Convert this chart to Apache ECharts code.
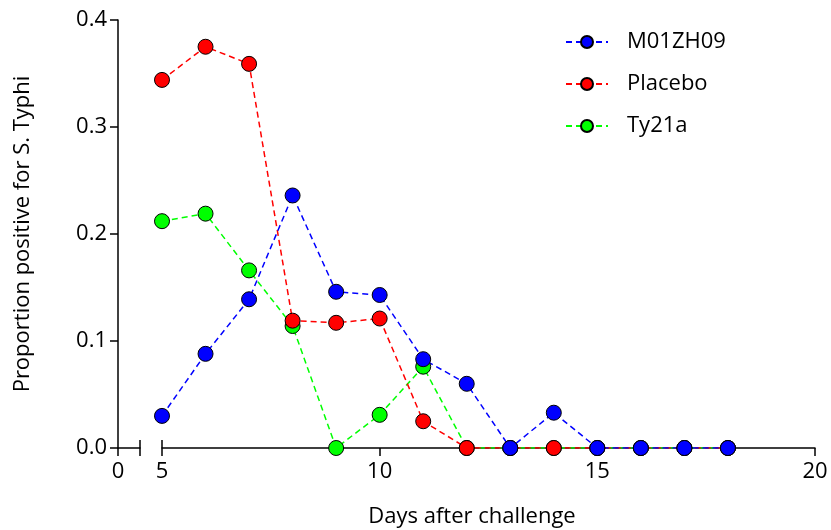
<!DOCTYPE html>
<html>
<head>
<meta charset="utf-8">
<script src="https://cdn.jsdelivr.net/npm/echarts@6/dist/echarts.min.js"></script>
<style>html,body{margin:0;padding:0;background:#fff}#c{width:831px;height:530px}</style>
</head>
<body>
<div id="c"></div>
<script>
const days = [5, 6, 7, 8, 9, 10, 11, 12, 13, 14, 15, 16, 17, 18];
const seriesNames = ['M01ZH09', 'Placebo', 'Ty21a'];
const m01zh09 = [0.030, 0.088, 0.139, 0.236, 0.146, 0.143, 0.083, 0.060, 0.000, 0.033, 0.000, 0.000, 0.000, 0.000];
const placebo = [0.344, 0.375, 0.359, 0.119, 0.117, 0.121, 0.025, 0.000, 0.000, 0.000, 0.000, 0.000, 0.000, 0.000];
const ty21a   = [0.212, 0.219, 0.166, 0.114, 0.000, 0.031, 0.076, 0.000, 0.000, 0.000, 0.000, 0.000, 0.000, 0.000];
const xTicks = [0, 5, 10, 15, 20];
const yTicks = [0, 0.1, 0.2, 0.3, 0.4];
const xTitle = 'Days after challenge';
const yTitle = 'Proportion positive for S. Typhi';

const FONT = 'Open Sans';
const colors = {M01ZH09: '#0000ff', Placebo: '#ff0000', Ty21a: '#00ff00'};
const values = {M01ZH09: m01zh09, Placebo: placebo, Ty21a: ty21a};

function mkSeries(name) {
  return {
    name: name, type: 'line', xAxisIndex: 0, yAxisIndex: 0,
    data: days.map((d, i) => [d, values[name][i]]),
    symbol: 'circle', symbolSize: 15,
    itemStyle: {color: colors[name], borderColor: '#000', borderWidth: 1},
    lineStyle: {color: colors[name], width: 1.5, type: [6, 4]},
    emphasis: {disabled: true}, animation: false
  };
}

const axisLineStyle = {color: '#000', width: 1.5};
const chart = echarts.init(document.getElementById('c'), null, {renderer: 'canvas'});
chart.setOption({
  animation: false,
  textStyle: {fontFamily: FONT},
  title: {
    text: xTitle, left: 467, top: 501, textAlign: 'center',
    textStyle: {fontFamily: FONT, fontSize: 22, fontWeight: 'normal', color: '#000'}
  },
  legend: {
    data: seriesNames, orient: 'vertical', left: 560, top: 26,
    itemWidth: 42, itemHeight: 15, itemGap: 20,
    textStyle: {fontFamily: FONT, fontSize: 22, color: '#000', padding: [0, 0, 0, 14]}
  },
  grid: [
    {left: 162, right: 16, top: 20, bottom: 82, containLabel: false},
    {left: 118, width: 22, top: 20, bottom: 82, containLabel: false}
  ],
  xAxis: [
    {gridIndex: 0, type: 'value', min: 5, max: 20, interval: 5,
     axisLine: {lineStyle: axisLineStyle}, splitLine: {show: false},
     axisTick: {length: 8, lineStyle: axisLineStyle},
     axisLabel: {fontFamily: FONT, fontSize: 22, color: '#000', margin: 13,
                 customValues: xTicks.filter(v => v >= 5)}},
    {gridIndex: 0, type: 'value', min: 5, max: 20, interval: 5, position: 'bottom',
     axisLine: {show: false}, splitLine: {show: false},
     axisTick: {show: true, inside: true, length: 8, lineStyle: axisLineStyle, customValues: [5]},
     axisLabel: {show: false}},
    {gridIndex: 1, type: 'value', min: 0, max: 1, interval: 1,
     axisLine: {lineStyle: axisLineStyle}, splitLine: {show: false},
     axisTick: {length: 8, lineStyle: axisLineStyle},
     axisLabel: {fontFamily: FONT, fontSize: 22, color: '#000', margin: 13,
                 customValues: [0], formatter: v => String(xTicks[0])}},
    {gridIndex: 1, type: 'value', min: 0, max: 1, interval: 1, position: 'bottom',
     axisLine: {show: false}, splitLine: {show: false},
     axisTick: {show: true, inside: true, length: 8, lineStyle: axisLineStyle, customValues: [1]},
     axisLabel: {show: false}}
  ],
  yAxis: [
    {gridIndex: 0, type: 'value', min: 0, max: 0.4, interval: 0.1, show: false},
    {gridIndex: 1, type: 'value', min: 0, max: 0.4, interval: 0.1,
     axisLine: {show: true, lineStyle: axisLineStyle}, splitLine: {show: false},
     axisTick: {show: true, length: 8, lineStyle: axisLineStyle},
     axisLabel: {fontFamily: FONT, fontSize: 22, color: '#000', margin: 11,
                 customValues: yTicks, formatter: v => v.toFixed(1)},
     name: yTitle, nameLocation: 'middle', nameGap: 84, nameRotate: 90,
     nameTextStyle: {fontFamily: FONT, fontSize: 22, color: '#000'}}
  ],
  series: [mkSeries('Ty21a'), mkSeries('Placebo'), mkSeries('M01ZH09')]
});
</script>
</body>
</html>
